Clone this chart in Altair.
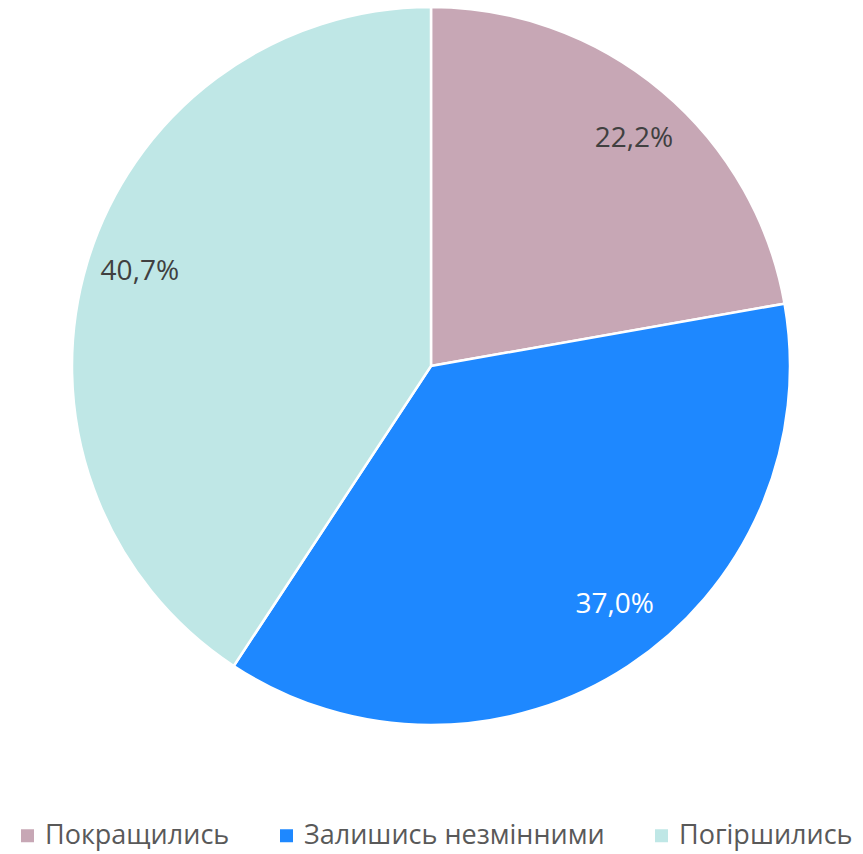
import altair as alt
import pandas as pd

categories = ["Покращились", "Залишись незмінними", "Погіршились"]
values = [22.2, 37.0, 40.7]
colors = ["#C7A7B5", "#1E88FF", "#BFE7E6"]

df = pd.DataFrame({
    "cat": categories,
    "val": values,
    "idx": list(range(len(categories))),
    "label": [f"{v:.1f}".replace(".", ",") + "%" for v in values],
})

base = alt.Chart(df).encode(
    theta=alt.Theta("val:Q", stack=True),
    order=alt.Order("idx:Q"),
)

arcs = base.mark_arc(outerRadius=359, stroke="white", strokeWidth=2.5).encode(
    x=alt.value(423),
    y=alt.value(358),
    color=alt.Color(
        "cat:N",
        scale=alt.Scale(domain=categories, range=colors),
        sort=categories,
        legend=alt.Legend(
            title=None,
            orient="none",
            legendX=6,
            legendY=814,
            direction="horizontal",
            symbolType="square",
            symbolSize=169,
            symbolStrokeWidth=0,
            labelFont="Open Sans",
            labelFontSize=27,
            labelColor="#595959",
            labelOffset=4,
            columnPadding=43,
            labelLimit=500,
        ),
    ),
)

# per-label nudges (style only), mimicking the reference's label placement
nudges = {"Покращились": (7, 7), "Залишись незмінними": (16, -16), "Погіршились": (1, -7)}

label_layers = []
for cat, (dx, dy) in nudges.items():
    label_layers.append(
        base.mark_text(radius=305, font="Open Sans", fontSize=28, align="center",
                       baseline="middle", dx=dx, dy=dy).encode(
            x=alt.value(423),
            y=alt.value(358),
            text="label:N",
            color=alt.condition(alt.datum.cat == "Залишись незмінними",
                                alt.value("white"), alt.value("#404040")),
            opacity=alt.condition(alt.datum.cat == cat, alt.value(1), alt.value(0)),
        )
    )

chart = alt.layer(arcs, *label_layers).properties(
    width=847, height=846, autosize=alt.AutoSizeParams(type="none"), padding=0
).configure_view(stroke=None)

chart.save("out.html", embed_options={"renderer": "svg", "actions": False})
